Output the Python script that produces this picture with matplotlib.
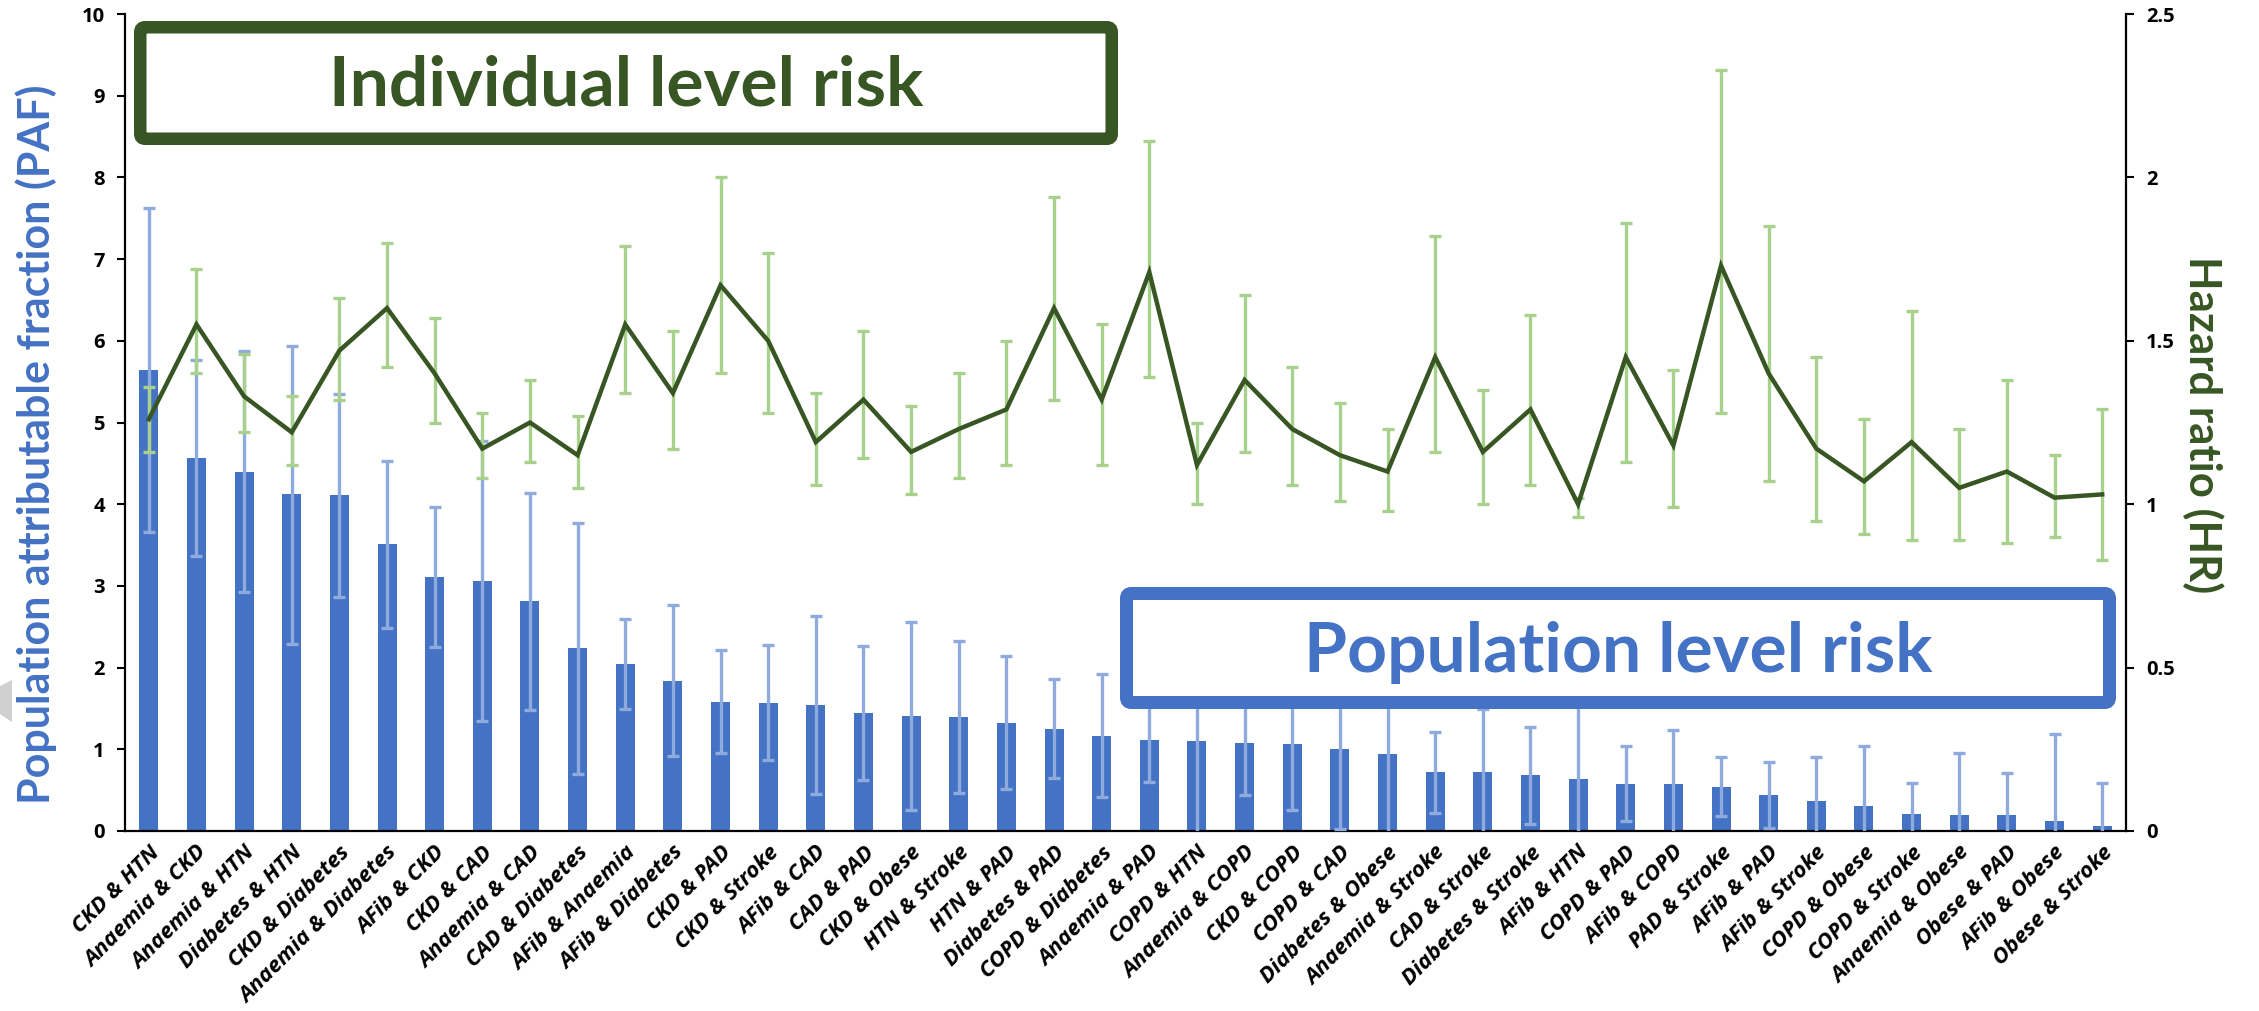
import matplotlib
matplotlib.use("Agg")
import matplotlib.pyplot as plt
from matplotlib.patches import FancyBboxPatch, Polygon
from matplotlib.transforms import IdentityTransform
import numpy as np

# Condition pairs, ordered by population attributable fraction
categories = [
    "CKD & HTN", "Anaemia & CKD", "Anaemia & HTN", "Diabetes & HTN", "CKD & Diabetes",
    "Anaemia & Diabetes", "AFib & CKD", "CKD & CAD", "Anaemia & CAD", "CAD & Diabetes",
    "AFib & Anaemia", "AFib & Diabetes", "CKD & PAD", "CKD & Stroke", "AFib & CAD",
    "CAD & PAD", "CKD & Obese", "HTN & Stroke", "HTN & PAD", "Diabetes & PAD",
    "COPD & Diabetes", "Anaemia & PAD", "COPD & HTN", "Anaemia & COPD", "CKD & COPD",
    "COPD & CAD", "Diabetes & Obese", "Anaemia & Stroke", "CAD & Stroke", "Diabetes & Stroke",
    "AFib & HTN", "COPD & PAD", "AFib & COPD", "PAD & Stroke", "AFib & PAD",
    "AFib & Stroke", "COPD & Obese", "COPD & Stroke", "Anaemia & Obese", "Obese & PAD",
    "AFib & Obese", "Obese & Stroke",
]

# Population attributable fraction (%) with 95% CI
paf = [5.64, 4.56, 4.40, 4.12, 4.11, 3.51, 3.11, 3.06, 2.81, 2.24,
       2.04, 1.84, 1.58, 1.57, 1.54, 1.44, 1.41, 1.39, 1.32, 1.25,
       1.16, 1.11, 1.10, 1.08, 1.06, 1.00, 0.94, 0.72, 0.72, 0.68,
       0.64, 0.58, 0.57, 0.54, 0.44, 0.37, 0.30, 0.21, 0.20, 0.20,
       0.12, 0.06]
paf_low = [3.66, 3.37, 2.92, 2.29, 2.87, 2.48, 2.25, 1.35, 1.48, 0.70,
           1.49, 0.92, 0.95, 0.87, 0.45, 0.62, 0.26, 0.46, 0.51, 0.65,
           0.42, 0.60, -0.30, 0.44, 0.26, 0.03, -0.42, 0.22, -0.05, 0.09,
           -0.62, 0.12, -0.09, 0.18, 0.04, -0.15, -0.44, -0.17, -0.56, -0.31,
           -0.95, -0.47]
paf_high = [7.62, 5.76, 5.88, 5.94, 5.35, 4.53, 3.97, 4.77, 4.14, 3.77,
            2.59, 2.77, 2.22, 2.28, 2.63, 2.26, 2.56, 2.32, 2.14, 1.86,
            1.92, 1.62, 2.50, 1.72, 1.86, 1.97, 2.30, 1.21, 1.49, 1.27,
            1.90, 1.04, 1.24, 0.90, 0.84, 0.90, 1.04, 0.59, 0.96, 0.71,
            1.19, 0.59]

# Hazard ratio with 95% CI
hr = [1.26, 1.55, 1.33, 1.22, 1.47, 1.60, 1.40, 1.17, 1.25, 1.15,
      1.55, 1.34, 1.67, 1.50, 1.19, 1.32, 1.16, 1.23, 1.29, 1.60,
      1.32, 1.71, 1.12, 1.38, 1.23, 1.15, 1.10, 1.45, 1.16, 1.29,
      1.00, 1.45, 1.18, 1.73, 1.40, 1.17, 1.07, 1.19, 1.05, 1.10,
      1.02, 1.03]
hr_low = [1.16, 1.40, 1.22, 1.12, 1.32, 1.42, 1.25, 1.08, 1.13, 1.05,
          1.34, 1.17, 1.40, 1.28, 1.06, 1.14, 1.03, 1.08, 1.12, 1.32,
          1.12, 1.39, 1.00, 1.16, 1.06, 1.01, 0.98, 1.16, 1.00, 1.06,
          0.96, 1.13, 0.99, 1.28, 1.07, 0.95, 0.91, 0.89, 0.89, 0.88,
          0.90, 0.83]
hr_high = [1.36, 1.72, 1.46, 1.33, 1.63, 1.80, 1.57, 1.28, 1.38, 1.27,
           1.79, 1.53, 2.00, 1.77, 1.34, 1.53, 1.30, 1.40, 1.50, 1.94,
           1.55, 2.11, 1.25, 1.64, 1.42, 1.31, 1.23, 1.82, 1.35, 1.58,
           1.02, 1.86, 1.41, 2.33, 1.85, 1.45, 1.26, 1.59, 1.23, 1.38,
           1.15, 1.29]

left_ticks = [0, 1, 2, 3, 4, 5, 6, 7, 8, 9, 10]
right_ticks = [0, 0.5, 1, 1.5, 2, 2.5]
right_tick_labels = ["0", "0.5", "1", "1.5", "2", "2.5"]

BLUE = "#4472C4"
BLUE_LIGHT = "#8FAADC"
GREEN = "#375623"
GREEN_LIGHT = "#A9D18E"

W, H = 2259, 1011
DPI = 100
plt.rcParams["font.family"] = ["Lato", "DejaVu Sans"]
TICK_FONT = ["Open Sans", "DejaVu Sans"]

fig = plt.figure(figsize=(W / DPI, H / DPI), dpi=DPI)
ax_l, ax_r, ax_t, ax_b = 125, 2126, 14, 831
ax = fig.add_axes([ax_l / W, 1 - ax_b / H, (ax_r - ax_l) / W, (ax_b - ax_t) / H])

x = np.arange(len(categories))
paf_a = np.array(paf)
hr_a = np.array(hr)

ax.bar(x, paf_a, width=0.40, color=BLUE, zorder=2)
ax.errorbar(x, paf_a,
            yerr=[paf_a - np.array(paf_low), np.array(paf_high) - paf_a],
            fmt="none", ecolor=BLUE_LIGHT, elinewidth=2.4, capsize=4.3,
            capthick=2.4, zorder=3)

ax.set_xlim(-0.5, len(categories) - 0.5)
ax.set_ylim(0, 10)
ax.set_yticks(left_ticks)
ax.set_yticklabels([str(t) for t in left_ticks], fontsize=14.5, fontweight="bold",
                   family=TICK_FONT)
ax.set_xticks(x)
ax.set_xticklabels(categories, rotation=45, ha="right", rotation_mode="anchor",
                   fontsize=16, fontweight="bold", fontstyle="italic",
                   family=TICK_FONT)
ax.tick_params(axis="x", length=0, pad=8)
ax.tick_params(axis="y", length=5.5, width=1.5, pad=9, direction="out")
for s in ["left", "bottom"]:
    ax.spines[s].set_linewidth(1.6)
    ax.spines[s].set_color("black")
ax.spines["top"].set_visible(False)
ax.spines["right"].set_visible(False)

ax2 = ax.twinx()
ax2.errorbar(x, hr_a,
             yerr=[hr_a - np.array(hr_low), np.array(hr_high) - hr_a],
             fmt="none", ecolor=GREEN_LIGHT, elinewidth=2.4, capsize=4.3,
             capthick=2.4, zorder=2)
ax2.plot(x, hr_a, color=GREEN, lw=3.2, zorder=3, solid_joinstyle="miter")
ax2.set_ylim(0, 2.5)
ax2.set_yticks(right_ticks)
ax2.set_yticklabels(right_tick_labels, fontsize=14.5, fontweight="bold",
                    family=TICK_FONT)
ax2.tick_params(axis="y", length=5.5, width=1.5, pad=9, direction="out")
ax2.spines["right"].set_linewidth(1.6)
ax2.spines["right"].set_color("black")
for s in ["top", "left", "bottom"]:
    ax2.spines[s].set_visible(False)


def fx(px):
    return px / W


def fy(py):
    return 1 - py / H


# Axis titles
fig.text(fx(36), fy(444), "Population attributable fraction (PAF)", rotation=90,
         ha="center", va="center", color=BLUE, fontsize=31, fontweight="bold")
fig.text(fx(2203), fy(425), "Hazard ratio (HR)", rotation=-90,
         ha="center", va="center", color=GREEN, fontsize=31.5, fontweight="bold")


def framed_box(x0, y0, x1, y1, color, lw_px):
    half = lw_px / 2
    box = FancyBboxPatch((x0 + half, H - (y1 - half)),
                         (x1 - x0) - lw_px, (y1 - y0) - lw_px,
                         boxstyle="round,pad=0,rounding_size=5",
                         transform=IdentityTransform(),
                         facecolor="white", edgecolor=color,
                         linewidth=lw_px * 72 / DPI, zorder=5)
    fig.add_artist(box)


framed_box(134, 21, 1118, 145, GREEN, 12.5)
fig.text(fx(626), fy(105), "Individual level risk", ha="center", va="baseline",
         color=GREEN, fontsize=50, fontweight="bold", zorder=6)

framed_box(1120, 587, 2116, 709, BLUE, 13)
fig.text(fx(1618), fy(672), "Population level risk", ha="center", va="baseline",
         color=BLUE, fontsize=50, fontweight="bold", zorder=6)

# Small grey pointer at the left edge
pointer = Polygon([(0, H - 686), (12, H - 680), (12, H - 722), (0, H - 714)],
                  closed=True, transform=IdentityTransform(),
                  facecolor="#cfcfcf", edgecolor="none", zorder=4)
fig.add_artist(pointer)

fig.savefig("out.png", dpi=DPI, facecolor="white")
